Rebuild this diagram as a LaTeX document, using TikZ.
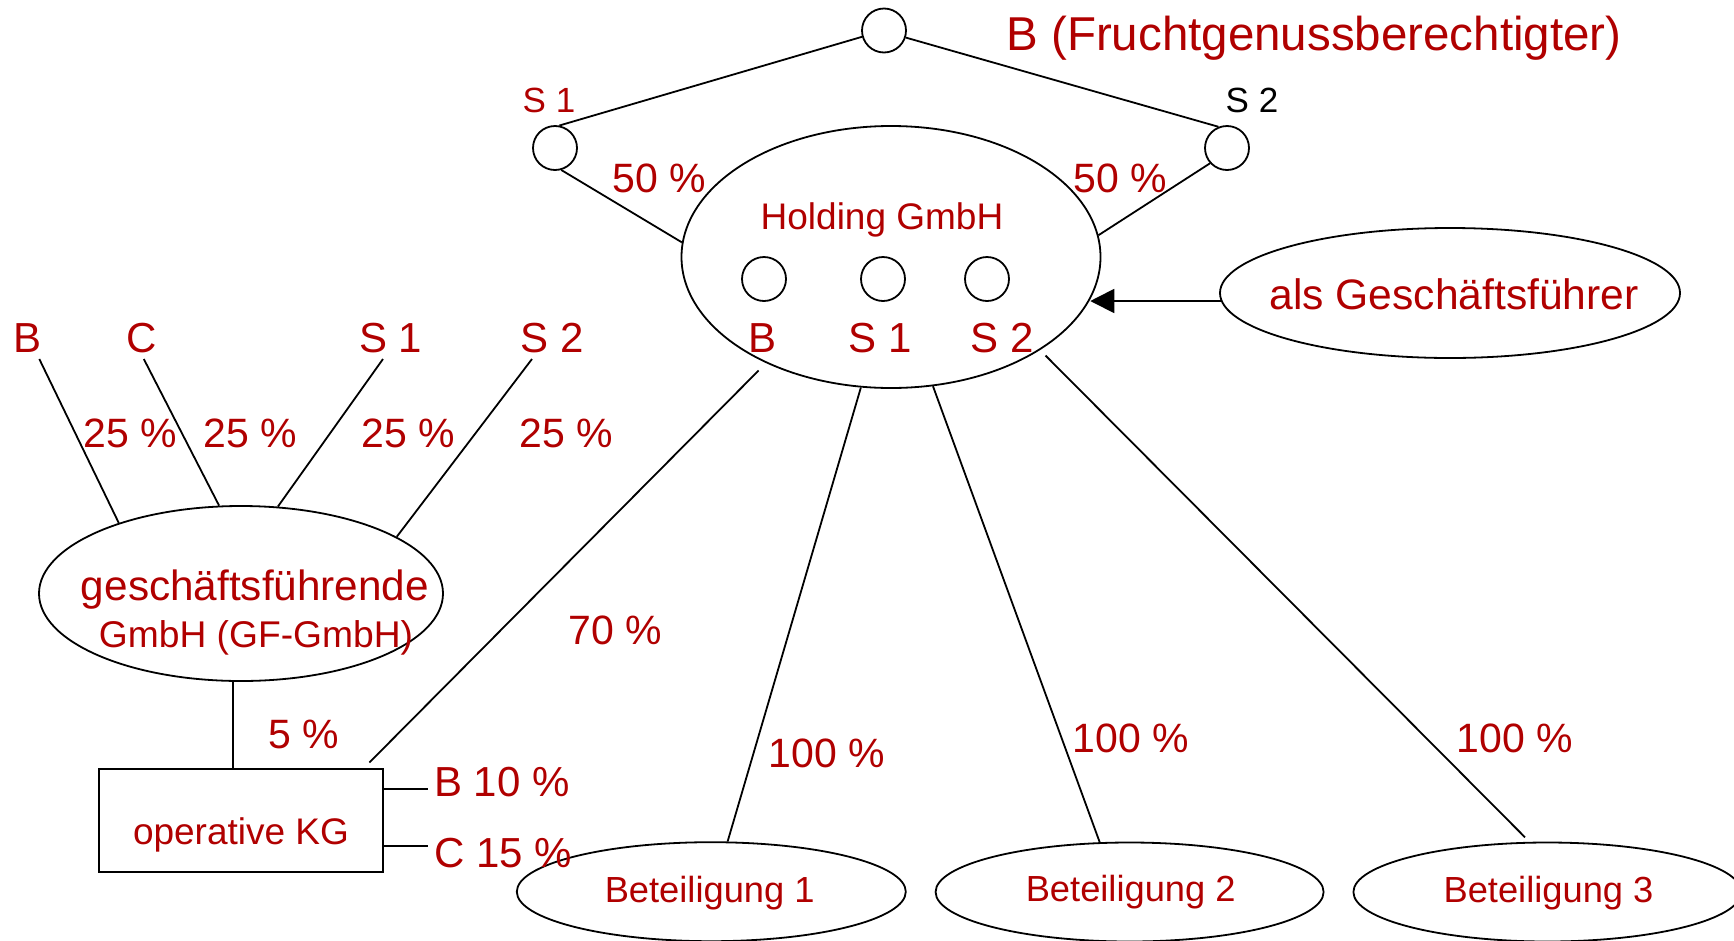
\documentclass[tikz,border=0pt]{standalone}
\usepackage{fontspec}
\setmainfont{Liberation Sans}
\usetikzlibrary{shapes.geometric,arrows.meta}
\definecolor{dred}{RGB}{176,0,0}
\newcommand{\myfs}[1]{\fontsize{#1}{#1}\selectfont}
\begin{document}
\begin{tikzpicture}[x=1pt,y=-1pt, line width=1.8pt,
  txt/.style={anchor=base, inner sep=0pt, text=dred},
  ell/.style={draw, ellipse, inner sep=0pt},
  circ/.style={draw, circle, inner sep=0pt, minimum size=44pt}]
\useasboundingbox (0,0) rectangle (1734,940);
% shapes
\node[circ] (top) at (884,30.5) {};
\node[circ] (s1c) at (555,148) {};
\node[circ] (s2c) at (1227,148) {};
\node[ell, minimum width=419pt, minimum height=262pt] (hold) at (891,257) {};
\node[circ] (hb) at (764,279) {};
\node[circ] (hs1) at (883,279) {};
\node[circ] (hs2) at (987,279) {};
\node[ell, minimum width=460pt, minimum height=130pt] (als) at (1450,293) {};
\node[ell, minimum width=404pt, minimum height=175pt] (gf) at (241,593.5) {};
\node[draw, rectangle, minimum width=284pt, minimum height=103pt, inner sep=0pt] (kg) at (241,820.5) {};
\node[ell, minimum width=389pt, minimum height=99pt] (bet1) at (711.3,891.7) {};
\node[ell, minimum width=388pt, minimum height=99pt] (bet2) at (1129.6,892) {};
\node[ell, minimum width=388pt, minimum height=99pt] (bet3) at (1547.4,892) {};
% connectors
\draw (top.196.5) -- (s1c.79.7);
\draw (top.342.5) -- (s2c.112);
\draw (s1c.286) -- (hold.176.2);
\draw (s2c.222.9) -- (hold.6.6);
\draw[-{Triangle[length=24pt,width=24pt]}] (als.182) -- (hold.-12.6 |- als.182);
\coordinate (lB) at (39.3,359);
\coordinate (lC) at (143.8,359);
\coordinate (lS1) at (383,359);
\coordinate (lS2) at (532,359);
\draw (lB) -- (gf.150.6);
\draw (lC) -- (gf.104.2);
\draw (lS1) -- (gf.67.1);
\draw (lS2) -- (gf.20.6);
\draw (gf.265) -- (gf.265 |- kg.north);
\coordinate (kgB) at (427.7,789);
\coordinate (kgC) at (427.7,845.7);
\draw (kg.east |- kgB) -- (kgB);
\draw (kg.east |- kgC) -- (kgC);
\coordinate (h70) at (758.6,370.5);
\coordinate (k70) at (369.4,762.5);
\draw (h70) -- (k70);
\draw (hold.257) -- (bet1.72.7);
\draw (hold.288.6) -- (bet2.121.6);
\coordinate (h3) at (1045.5,355.5);
\coordinate (b3) at (1525,837.3);
\draw (h3) -- (b3);
% texts
\node[txt, font=\myfs{47.5}] (tB) at (1314,50) {B (Fruchtgenussberechtigter)};
\node[txt, font=\myfs{35}] (tS1) at (549,112) {S 1};
\node[txt, font=\myfs{35}, text=black] (tS2) at (1252,112) {S 2};
\node[txt, font=\myfs{41}] (p50a) at (659,192) {50 \%};
\node[txt, font=\myfs{41}] (p50b) at (1120,192) {50 \%};
\node[txt, font=\myfs{37}] (thold) at (882,229) {Holding GmbH};
\node[txt, font=\myfs{42}] (thb) at (762,352) {B};
\node[txt, font=\myfs{42}] (ths1) at (880,352) {S 1};
\node[txt, font=\myfs{42}] (ths2) at (1002,352) {S 2};
\node[txt, font=\myfs{42.6}] (tals) at (1454,309) {als Geschäftsführer};
\node[txt, font=\myfs{42}] (tlB) at (27.5,352) {B};
\node[txt, font=\myfs{42}] (tlC) at (141.6,352) {C};
\node[txt, font=\myfs{42}] (tlS1) at (390.6,352) {S 1};
\node[txt, font=\myfs{42}] (tlS2) at (552,352) {S 2};
\node[txt, font=\myfs{41}] (p25a) at (130,447) {25 \%};
\node[txt, font=\myfs{41}] (p25b) at (250.6,447) {25 \%};
\node[txt, font=\myfs{41}] (p25c) at (408.5,447) {25 \%};
\node[txt, font=\myfs{41}] (p25d) at (566,447) {25 \%};
\node[txt, font=\myfs{42.3}] (tgf1) at (255,600.7) {geschäftsführende};
\node[txt, font=\myfs{37.2}] (tgf2) at (256,647) {GmbH (GF-GmbH)};
\node[txt, font=\myfs{41}] (p5) at (303.7,748) {5 \%};
\node[txt, font=\myfs{37}] (tkg) at (241,844) {operative KG};
\node[txt, font=\myfs{42}] (tb10) at (502,796) {B 10 \%};
\node[txt, font=\myfs{42}] (tc15) at (503.5,867) {C 15 \%};
\node[txt, font=\myfs{41}] (p70) at (615,644) {70 \%};
\node[txt, font=\myfs{41}] (p100a) at (827,767) {100 \%};
\node[txt, font=\myfs{41}] (p100b) at (1131,752) {100 \%};
\node[txt, font=\myfs{41}] (p100c) at (1514.6,752) {100 \%};
\node[txt, font=\myfs{36.3}] (tbet1) at (709.7,902.7) {Beteiligung 1};
\node[txt, font=\myfs{36.3}] (tbet2) at (1130.7,901.7) {Beteiligung 2};
\node[txt, font=\myfs{36.3}] (tbet3) at (1548.5,902) {Beteiligung 3};
\end{tikzpicture}
\end{document}
